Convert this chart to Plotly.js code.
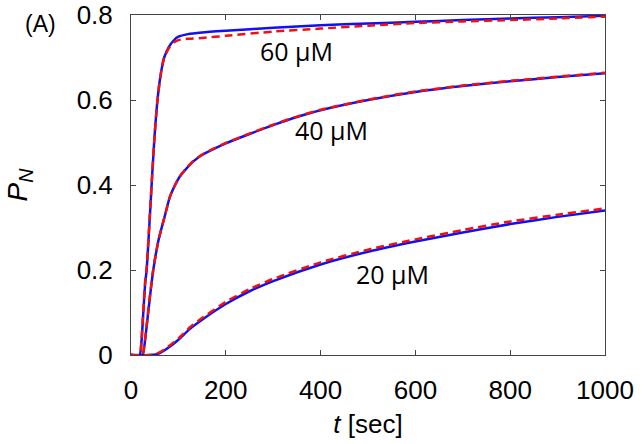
<!DOCTYPE html>
<html>
<head>
<meta charset="utf-8">
<script src="https://cdn.plot.ly/plotly-3.0.1.min.js"></script>
<style>html,body{margin:0;padding:0;background:#fff;}#chart{width:644px;height:444px;}</style>
</head>
<body>
<div id="chart"></div>
<script>
// 60 uM
const t60 = [0, 18, 22, 26, 30, 33, 40, 45, 50, 55, 60, 65, 70, 80, 90, 100, 120, 150, 200, 300, 400, 500, 600, 700, 800, 900, 1000];
const blue60 = [0, 0, 0.03, 0.1, 0.17, 0.2, 0.33, 0.43, 0.52, 0.59, 0.64, 0.675, 0.7, 0.725, 0.74, 0.749, 0.755, 0.759, 0.763, 0.77, 0.776, 0.78, 0.784, 0.788, 0.792, 0.795, 0.798];
const red60  = [0, 0, 0.035, 0.105, 0.175, 0.205, 0.335, 0.43, 0.52, 0.59, 0.64, 0.675, 0.7, 0.722, 0.735, 0.741, 0.744, 0.746, 0.751, 0.761, 0.768, 0.775, 0.781, 0.785, 0.788, 0.792, 0.796];
// 40 uM
const t40 = [0, 24, 28, 33, 40, 47, 58, 72, 82, 93, 103, 114, 131, 149, 175, 200, 250, 300, 350, 400, 500, 600, 700, 800, 900, 1000];
const blue40 = [0, 0, 0.02, 0.067, 0.137, 0.2, 0.27, 0.33, 0.372, 0.4, 0.42, 0.435, 0.455, 0.47, 0.485, 0.498, 0.52, 0.541, 0.56, 0.576, 0.6, 0.619, 0.633, 0.644, 0.654, 0.663];
const red40  = [0, 0, 0.022, 0.07, 0.14, 0.202, 0.27, 0.33, 0.372, 0.4, 0.42, 0.436, 0.456, 0.471, 0.486, 0.499, 0.521, 0.542, 0.561, 0.577, 0.601, 0.62, 0.634, 0.645, 0.655, 0.664];
// 20 uM
const t20 = [0, 40, 60, 80, 100, 125, 150, 200, 250, 300, 400, 500, 600, 700, 800, 900, 1000];
const blue20 = [0, 0, 0.004, 0.018, 0.036, 0.062, 0.083, 0.12, 0.15, 0.174, 0.213, 0.243, 0.267, 0.288, 0.308, 0.325, 0.34];
const red20  = [0, 0, 0.006, 0.021, 0.039, 0.066, 0.087, 0.125, 0.155, 0.179, 0.218, 0.248, 0.272, 0.294, 0.314, 0.33, 0.345];

const xTicks = [0, 200, 400, 600, 800, 1000];
const yTicks = [0, 0.2, 0.4, 0.6, 0.8];
const yTickText = ['0', '0.2', '0.4', '0.6', '0.8'];
const labels = ['60 μM', '40 μM', '20 μM'];
const labelX = [350, 424, 551];
const labelY = [0.716, 0.53, 0.19];

const blueLine = {color: '#1010f0', width: 2.5};
const redLine = {color: '#f01010', width: 2.5, dash: '8px,5px'};
const traces = [
  {x: t60, y: blue60, line: blueLine},
  {x: t40, y: blue40, line: blueLine},
  {x: t20, y: blue20, line: blueLine},
  {x: t60, y: red60, line: redLine},
  {x: t40, y: red40, line: redLine},
  {x: t20, y: red20, line: redLine}
];
traces.forEach(tr => {
  tr.mode = 'lines';
  tr.line = Object.assign({}, tr.line, {shape: 'spline', smoothing: 0.6});
  tr.showlegend = false; tr.hoverinfo = 'skip';
});

const annotations = labels.map((s, i) => ({
  x: labelX[i], y: labelY[i], xref: 'x', yref: 'y', text: s, showarrow: false,
  xanchor: 'center', yanchor: 'middle',
  font: {family: 'Open Sans, Noto Sans, sans-serif', size: 25, color: '#000'}
}));
annotations.push({x: -0.19, y: 0.975, xref: 'paper', yref: 'paper', text: '(A)', showarrow: false,
  xanchor: 'center', yanchor: 'middle',
  font: {family: 'Liberation Sans, Arial, sans-serif', size: 23, color: '#000'}});

const axisCommon = {
  showline: true, linecolor: '#444', linewidth: 1, mirror: 'allticks',
  ticks: 'inside', ticklen: 5, tickcolor: '#444', tickwidth: 1,
  showgrid: false, zeroline: false,
  tickfont: {family: 'Liberation Sans, Arial, sans-serif', size: 26, color: '#000'}
};
const layout = {
  width: 644, height: 444,
  margin: {l: 131, r: 39, t: 15, b: 89},
  paper_bgcolor: '#fff', plot_bgcolor: '#fff',
  xaxis: Object.assign({}, axisCommon, {range: [0, 1000], tickvals: xTicks, ticklabelstandoff: 12,
    title: {text: '<i>t</i> [sec]', standoff: 10, font: {family: 'Liberation Sans, Arial, sans-serif', size: 26, color: '#000'}}}),
  yaxis: Object.assign({}, axisCommon, {range: [0, 0.8], tickvals: yTicks, ticktext: yTickText, ticklabelstandoff: 12,
    title: {text: '<i>P<sub>N</sub></i>', standoff: 40, font: {family: 'Liberation Sans, Arial, sans-serif', size: 28, color: '#000'}}}),
  annotations: annotations
};
Plotly.newPlot('chart', traces, layout, {staticPlot: true, displayModeBar: false});
</script>
</body>
</html>
